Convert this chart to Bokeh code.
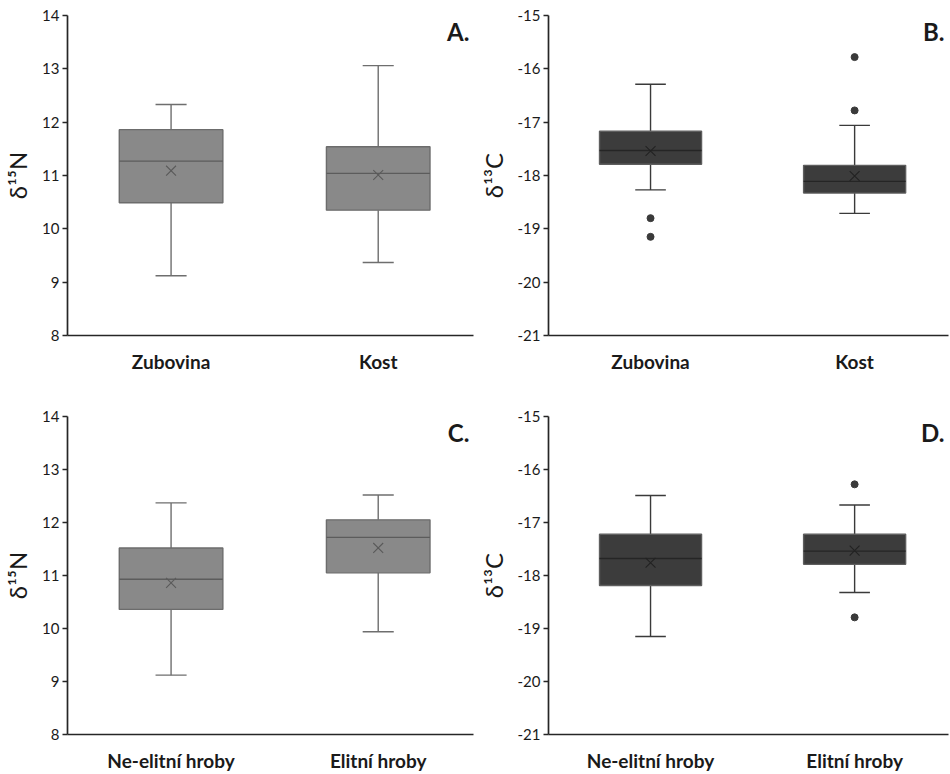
from bokeh.plotting import figure
from bokeh.layouts import row, column
from bokeh.models import Range1d, FixedTicker, Label
from bokeh.embed import file_html
from bokeh.resources import INLINE

# ---------------- data ----------------
cats_tissue = ["Zubovina", "Kost"]
cats_status = ["Ne-elitní hroby", "Elitní hroby"]

# Panel A: δ15N, tissue
a_low = [9.12, 9.37]
a_q1 = [10.49, 10.35]
a_med = [11.27, 11.04]
a_q3 = [11.86, 11.54]
a_high = [12.33, 13.06]
a_mean = [11.09, 11.01]
a_out_idx = []
a_out_val = []

# Panel B: δ13C, tissue
b_low = [-18.27, -18.71]
b_q1 = [-17.79, -18.33]
b_med = [-17.53, -18.11]
b_q3 = [-17.17, -17.81]
b_high = [-16.29, -17.06]
b_mean = [-17.54, -18.01]
b_out_idx = [0, 0, 1, 1]
b_out_val = [-18.80, -19.15, -15.78, -16.78]

# Panel C: δ15N, burial status
c_low = [9.12, 9.94]
c_q1 = [10.36, 11.05]
c_med = [10.93, 11.72]
c_q3 = [11.52, 12.05]
c_high = [12.37, 12.52]
c_mean = [10.86, 11.52]
c_out_idx = []
c_out_val = []

# Panel D: δ13C, burial status
d_low = [-19.15, -18.32]
d_q1 = [-18.19, -17.79]
d_med = [-17.68, -17.54]
d_q3 = [-17.22, -17.22]
d_high = [-16.49, -16.67]
d_mean = [-17.76, -17.53]
d_out_idx = [1, 1]
d_out_val = [-16.28, -18.79]

N_TICKS = [8, 9, 10, 11, 12, 13, 14]
C_TICKS = [-21, -20, -19, -18, -17, -16, -15]

FONT = "Lato"
AXIS_COLOR = "#262626"

LIGHT = dict(fill="#898989", edge="#6c6c6c", med="#5c5c5c", whisk="#6e6e6e", mean="#5a5a5a", pt="#3b3b3b")
DARK = dict(fill="#3c3c3c", edge="#5e5e5e", med="#252525", whisk="#3a3a3a", mean="#222222", pt="#3a3a3a")


def panel(cats, low, q1, med, q3, high, mean, out_idx, out_val, ticks, ylabel, letter, style,
          border_left, border_top, border_bottom, height):
    p = figure(width=475, height=height, output_backend="svg", toolbar_location=None,
               x_range=Range1d(-0.5, 1.46), y_range=Range1d(min(ticks), max(ticks)),
               min_border_left=border_left, min_border_right=2,
               min_border_top=border_top, min_border_bottom=border_bottom,
               background_fill_color="white", border_fill_color="white")
    p.outline_line_color = None
    p.xgrid.visible = False
    p.ygrid.visible = False

    xs = list(range(len(cats)))
    bw = 0.5
    cw = 0.075

    # whiskers
    p.segment(x0=xs, x1=xs, y0=q3, y1=high, line_color=style["whisk"], line_width=1.4)
    p.segment(x0=xs, x1=xs, y0=q1, y1=low, line_color=style["whisk"], line_width=1.4)
    p.segment(x0=[x - cw for x in xs], x1=[x + cw for x in xs], y0=high, y1=high,
              line_color=style["whisk"], line_width=1.4)
    p.segment(x0=[x - cw for x in xs], x1=[x + cw for x in xs], y0=low, y1=low,
              line_color=style["whisk"], line_width=1.4)
    # boxes
    p.vbar(x=xs, width=bw, bottom=q1, top=q3, fill_color=style["fill"],
           line_color=style["edge"], line_width=1.4)
    # median
    p.segment(x0=[x - bw / 2 for x in xs], x1=[x + bw / 2 for x in xs], y0=med, y1=med,
              line_color=style["med"], line_width=1.4)
    # mean
    p.scatter(x=xs, y=mean, marker="x", size=14, line_color=style["mean"], line_width=1.1)
    # outliers
    if out_idx:
        p.scatter(x=out_idx, y=out_val, marker="circle", size=7,
                  fill_color=style["pt"], line_color=style["pt"])

    # axes
    p.yaxis.ticker = FixedTicker(ticks=ticks)
    p.yaxis.major_label_overrides = {t: str(t) for t in ticks}
    p.yaxis.minor_tick_line_color = None
    p.yaxis.major_tick_in = 0
    p.yaxis.major_tick_out = 5
    p.yaxis.major_label_standoff = 3
    p.yaxis.axis_line_color = AXIS_COLOR
    p.yaxis.axis_line_width = 1.7
    p.yaxis.major_tick_line_color = AXIS_COLOR
    p.yaxis.major_tick_line_width = 1.5
    p.yaxis.major_label_text_font = FONT
    p.yaxis.major_label_text_font_size = "15px"
    p.yaxis.major_label_text_color = "#1a1a1a"
    p.yaxis.axis_label = ylabel
    p.yaxis.axis_label_text_font = FONT
    p.yaxis.axis_label_text_font_size = "24px"
    p.yaxis.axis_label_text_font_style = "normal"
    p.yaxis.axis_label_text_color = "#1a1a1a"
    p.yaxis.axis_label_standoff = 7

    p.xaxis.ticker = FixedTicker(ticks=xs)
    p.xaxis.major_label_overrides = {i: c for i, c in enumerate(cats)}
    p.xaxis.minor_tick_line_color = None
    p.xaxis.major_tick_line_color = None
    p.xaxis.major_tick_in = 0
    p.xaxis.major_tick_out = 0
    p.xaxis.major_label_standoff = 14
    p.xaxis.axis_line_color = AXIS_COLOR
    p.xaxis.axis_line_width = 1.7
    p.xaxis.major_label_text_font = FONT
    p.xaxis.major_label_text_font_size = "19px"
    p.xaxis.major_label_text_font_style = "bold"
    p.xaxis.major_label_text_color = "#1a1a1a"

    p.add_layout(Label(x=1.44, y=max(ticks) - 0.3, text=letter, text_align="right",
                       text_baseline="middle", text_font=FONT, text_font_size="24px",
                       text_font_style="bold", text_color="#1a1a1a"))
    return p


pA = panel(cats_tissue, a_low, a_q1, a_med, a_q3, a_high, a_mean, a_out_idx, a_out_val,
           N_TICKS, "δ¹⁵N", "A.", LIGHT, 65, 15, 55, 390)
pB = panel(cats_tissue, b_low, b_q1, b_med, b_q3, b_high, b_mean, b_out_idx, b_out_val,
           C_TICKS, "δ¹³C", "B.", DARK, 66, 11, 55, 390)
pC = panel(cats_status, c_low, c_q1, c_med, c_q3, c_high, c_mean, c_out_idx, c_out_val,
           N_TICKS, "δ¹⁵N", "C.", LIGHT, 65, 26, 36, 384)
pD = panel(cats_status, d_low, d_q1, d_med, d_q3, d_high, d_mean, d_out_idx, d_out_val,
           C_TICKS, "δ¹³C", "D.", DARK, 66, 26, 36, 384)

layout = column(row(pA, pB, spacing=0), row(pC, pD, spacing=0), spacing=0)

with open("out.html", "w") as f:
    f.write(file_html(layout, INLINE))
